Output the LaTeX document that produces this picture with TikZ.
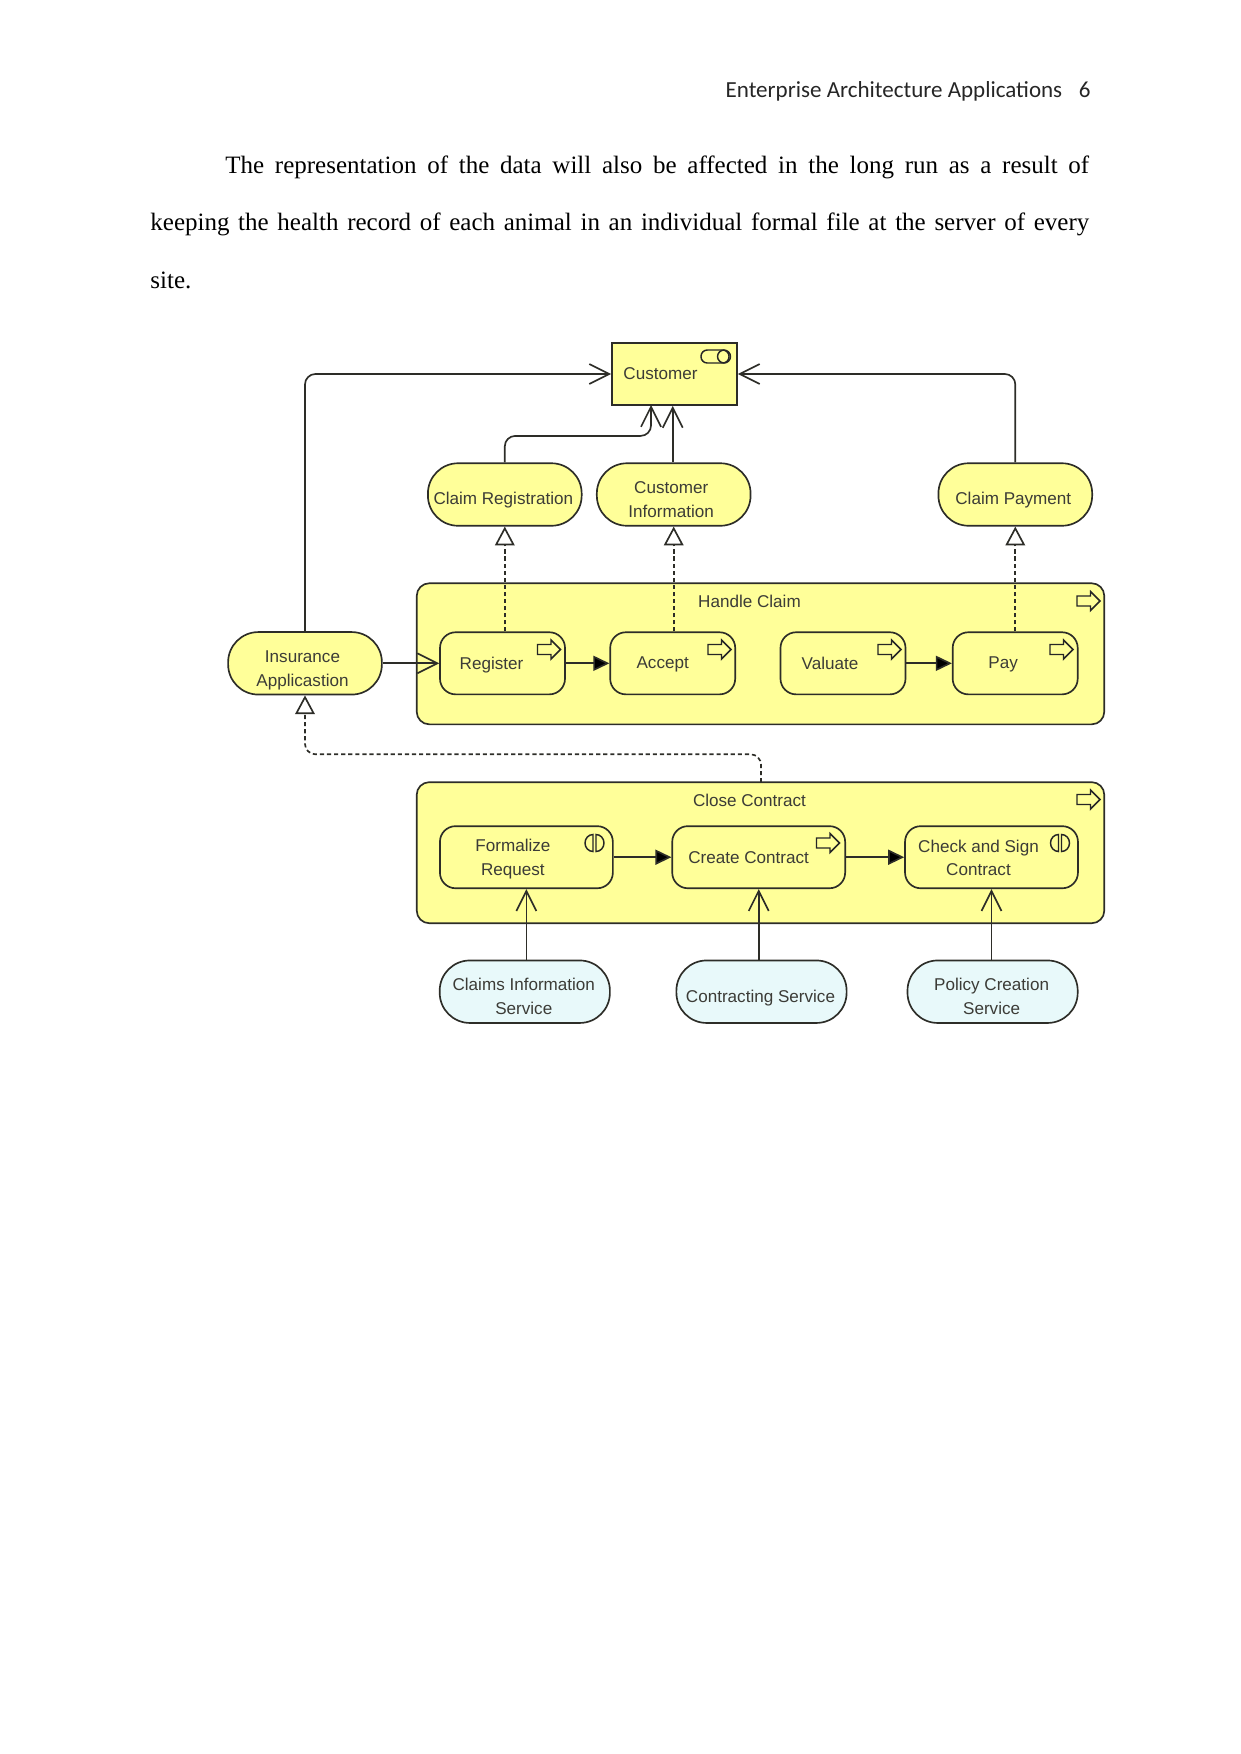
\documentclass[tikz,border=0pt]{standalone}
\usepackage{xcolor}
\usepackage{fontspec}
\setmainfont{Liberation Serif}
\setsansfont{Liberation Sans}
\newfontfamily\headfont{Carlito}
\usetikzlibrary{arrows.meta, positioning, calc}
\definecolor{archyellow}{RGB}{255, 255, 153}
\definecolor{archblue}{RGB}{232, 249, 250}
\definecolor{archline}{RGB}{45, 45, 40}
\definecolor{archtext}{RGB}{60, 60, 55}

\tikzset{
    basebox/.style={draw=archline, line width=0.8pt, fill=archyellow, inner sep=0pt},
    actorbox/.style={basebox, minimum width=60pt, minimum height=29.8pt},
    groupbox/.style={basebox, rounded corners=6pt, minimum width=330pt, minimum height=67.7pt},
    procbox/.style={basebox, rounded corners=7.5pt, minimum width=60pt, minimum height=29.8pt},
    widebox/.style={procbox, minimum width=83pt},
    pillbox/.style={basebox, rounded corners=14.5pt, minimum width=73.8pt, minimum height=30pt},
    servicebox/.style={pillbox, fill=archblue, minimum width=81.7pt},
    boxtext/.style={font=\sffamily\fontsize{8.2}{11.3}\selectfont, text=archtext, align=center, inner sep=0pt},
    conn/.style={draw=archline, line width=0.8pt, rounded corners=5pt},
    usedby/.style={conn, -{Straight Barb[length=9.6pt, width=9.6pt]}},
    flowto/.style={conn, -{Triangle[length=7.7pt, width=7.2pt, fill=black]}},
    realizes/.style={conn, dash pattern=on 2pt off 1.4pt,
        -{Triangle[open, fill=white, length=9pt, width=9.4pt, line width=0.8pt, sep=0pt]}},
    iconline/.style={draw=black!85, line width=0.7pt},
    procicon/.pic={
        \draw[iconline] (-11.5,-5) -- (2,-5) -- (2,-9.5) -- (11.5,0) -- (2,9.5) -- (2,5) -- (-11.5,5) -- cycle;
    },
    funcicon/.pic={
        \draw[iconline] (-1.5,-8.5) arc[start angle=90, end angle=270, x radius=8, y radius=-8.5] -- cycle;
        \draw[iconline] (1.5,-8.5) arc[start angle=90, end angle=-90, x radius=8, y radius=-8.5] -- cycle;
    },
    roleicon/.pic={
        \draw[iconline, rounded corners=3pt] (-14,-6.5) rectangle (14,6.5);
        \draw[iconline] (9,0) circle[radius=3.1pt];
    }
}

\begin{document}
\begin{tikzpicture}[x=0.48pt, y=-0.48pt]
    \useasboundingbox (0,0) rectangle (1241,1754);

    % page text
    \node[anchor=base east, inner sep=0pt, font=\headfont\fontsize{11.05}{13}\selectfont, text=black!85] (pagehead) at (1091,97)
        {Enterprise Architecture Applications\hspace{8pt}6};
    \node[anchor=north west, inner sep=0pt, text width=450.6pt, align=justify, font=\fontsize{12}{27.6}\selectfont] (bodytext) at (150,155)
        {\hspace*{36pt}The representation of the data will also be affected in the long run as a result of\linebreak keeping the health record of each animal in an individual formal file at the server of every\linebreak site.};

    % groups
    \node[groupbox, label={[boxtext, name=handlelabel, shift={(-11,-52)}]center:Handle Claim}] (handle) at (760.5,653.8) {};
    \node[groupbox, label={[boxtext, name=closelabel, shift={(-11,-52)}]center:Close Contract}] (close) at (760.5,852.7) {};

    % top row
    \node[actorbox, label={[boxtext, name=customerlabel, shift={(-14,0)}]center:Customer}] (customer) at (674.5,374) {};
    \node[pillbox, label={[boxtext, name=claimreglabel, shift={(-1.5,6)}]center:Claim Registration}] (claimreg) at (504.8,494.5) {};
    \node[pillbox, label={[boxtext, name=custinfolabel, shift={(-2.5,5)}]center:Customer\\Information}] (custinfo) at (673.7,494.5) {};
    \node[pillbox, label={[boxtext, name=claimpaylabel, shift={(-2,6)}]center:Claim Payment}] (claimpay) at (1015.3,494.5) {};
    \node[pillbox, label={[boxtext, name=insurancelabel, shift={(-2.5,7)}]center:Insurance\\Applicastion}] (insurance) at (305,663.3) {};

    % handle claim steps
    \node[procbox, label={[boxtext, name=registerlabel, shift={(-11,1.5)}]center:Register}] (register) at (502.5,663.3) {};
    \node[procbox, label={[boxtext, name=acceptlabel, shift={(-10,1.5)}]center:Accept}] (accept) at (672.7,663.3) {};
    \node[procbox, label={[boxtext, name=valuatelabel, shift={(-13,0)}]center:Valuate}] (valuate) at (843,663.3) {};
    \node[procbox, label={[boxtext, name=paylabel, shift={(-12,1.5)}]center:Pay}] (pay) at (1015.2,663.3) {};

    % close contract steps
    \node[widebox, label={[boxtext, name=formalizelabel, shift={(-13.5,2)}]center:Formalize\\Request}] (formalize) at (526.4,857.2) {};
    \node[widebox, label={[boxtext, name=createlabel, shift={(-10,0)}]center:Create Contract}] (create) at (758.7,857.2) {};
    \node[widebox, label={[boxtext, name=checklabel, shift={(-13,0.5)}]center:Check and Sign\\Contract}] (check) at (991.5,857.2) {};

    % services
    \node[servicebox, label={[boxtext, name=claimsinfolabel, shift={(-1,4.5)}]center:Claims Information\\Service}] (claimsinfo) at (524.8,991.7) {};
    \node[servicebox, label={[boxtext, name=contractinglabel, shift={(-1,6)}]center:Contracting Service}] (contracting) at (761.5,991.7) {};
    \node[servicebox, label={[boxtext, name=policylabel, shift={(-1,4.5)}]center:Policy Creation\\Service}] (policy) at (992.6,991.7) {};

    \coordinate (customerin) at (651,405);
    \coordinate (closeout) at (761,782.3);

    % used by
    \draw[usedby] (insurance.north) |- (customer.west);
    \draw[usedby] (claimreg.north) -- ++(0,-26.5) -| (customerin);
    \draw[usedby] (accept.north |- custinfo.north) -- (accept.north |- customer.south);
    \draw[usedby] (claimpay.north) |- (customer.east);
    \draw[usedby] (insurance.east) -- (register.west);
    \draw[usedby] (formalize.south |- claimsinfo.north) -- (formalize.south);
    \draw[usedby] (create.south |- contracting.north) -- (create.south);
    \draw[usedby] (check.south |- policy.north) -- (check.south);

    % realization
    \draw[realizes] (claimreg.south |- register.north) -- (claimreg.south);
    \draw[realizes] (custinfo.south |- accept.north) -- (custinfo.south);
    \draw[realizes] (claimpay.south |- pay.north) -- (claimpay.south);
    \draw[realizes] (closeout) -- ++(0,-28) -| (insurance.south);

    % flow
    \draw[flowto] (register.east) -- (accept.west);
    \draw[flowto] (valuate.east) -- (pay.west);
    \draw[flowto] (formalize.east) -- (create.west);
    \draw[flowto] (create.east) -- (check.west);

    % icons
    \pic at (715,356.5) {roleicon};
    \pic at (1088.5,601) {procicon};
    \pic at (549,649.5) {procicon};
    \pic at (719.5,649.5) {procicon};
    \pic at (889.5,649.5) {procicon};
    \pic at (1061.5,649.5) {procicon};
    \pic at (1088.5,799.5) {procicon};
    \pic at (828,843) {procicon};
    \pic at (594.5,843) {funcicon};
    \pic at (1060,843) {funcicon};
\end{tikzpicture}
\end{document}
